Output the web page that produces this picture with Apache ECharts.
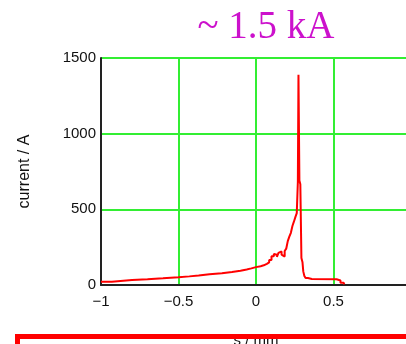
<!DOCTYPE html>
<html>
<head>
<meta charset="utf-8">
<script src="https://cdn.jsdelivr.net/npm/echarts@6/dist/echarts.min.js"></script>
<style>
  html, body { margin: 0; padding: 0; background: #ffffff; }
  #chart { width: 406px; height: 344px; }
</style>
</head>
<body>
<div id="chart"></div>
<script>
// Longitudinal position along the bunch (mm)
const positions = [
  -1.00, -0.93, -0.80, -0.70, -0.60, -0.50, -0.43, -0.37, -0.30, -0.22,
  -0.155, -0.10, -0.06, -0.03, 0.00, 0.03, 0.05, 0.07, 0.085, 0.10,
  0.115, 0.125, 0.135, 0.145, 0.155, 0.165, 0.175, 0.185, 0.195, 0.205,
  0.215, 0.225, 0.235, 0.245, 0.255, 0.263, 0.270, 0.274, 0.280, 0.286,
  0.293, 0.300, 0.305, 0.312, 0.320, 0.335, 0.360, 0.520, 0.545, 0.565, 0.570
];
// Beam current at each position (A)
const currents = [
  22, 33, 38, 44, 51, 57, 63, 71, 78, 86,
  94, 103, 110, 118, 124, 130, 140, 150, 165, 190,
  205, 200, 186, 212, 222, 200, 188, 225, 240, 290,
  320, 345, 390, 420, 452, 475, 680, 1390, 690, 665,
  178, 150, 90, 60, 46, 40, 38, 30, 15, 4, 0
];
const yTicks = [0, 500, 1000, 1500];
const titleText = '~ 1.5 kA';
const xName = 's / mm';
const yName = 'current / A';

const points = positions.map((s, i) => [s, currents[i]]);
const minus = v => String(v).replace('-', '\u2212');
const plain = v => String(v);

const chart = echarts.init(document.getElementById('chart'), null, { renderer: 'canvas' });
chart.setOption({
  backgroundColor: '#ffffff',
  animation: false,
  title: {
    text: titleText,
    left: 261,
    top: 3,
    textAlign: 'center',
    textStyle: {
      fontFamily: 'Liberation Serif',
      fontWeight: 'normal',
      fontSize: 39,
      color: '#cc11cc'
    }
  },
  grid: { left: 101, top: 58, width: 310, height: 227, outerBoundsMode: 'none', containLabel: false },
  xAxis: {
    type: 'value',
    min: -1,
    max: 1,
    interval: 0.5,
    name: xName,
    nameLocation: 'middle',
    nameGap: 48,
    nameTextStyle: { fontFamily: 'Liberation Sans', fontSize: 15, color: '#111' },
    axisLine: { show: true, onZero: false, lineStyle: { color: '#222', width: 2 } },
    axisTick: { show: false },
    axisLabel: { formatter: minus, fontFamily: 'Liberation Sans', fontSize: 15, color: '#111', margin: 9 },
    splitLine: { show: true, lineStyle: { color: '#33ee33', width: 2 } }
  },
  yAxis: {
    type: 'value',
    min: yTicks[0],
    max: yTicks[yTicks.length - 1],
    interval: 500,
    name: yName,
    nameLocation: 'middle',
    nameGap: 68,
    nameTextStyle: { fontFamily: 'Liberation Sans', fontSize: 16, color: '#111' },
    axisLine: { show: true, onZero: false, lineStyle: { color: '#222', width: 2 } },
    axisTick: { show: false },
    axisLabel: { formatter: plain, fontFamily: 'Liberation Sans', fontSize: 15, color: '#111', margin: 5 },
    splitLine: { show: true, lineStyle: { color: '#33ee33', width: 2 } }
  },
  series: [{
    type: 'line',
    data: points,
    step: 'end',
    showSymbol: false,
    lineStyle: { color: '#ff0000', width: 2 },
    z: 5
  }],
  graphic: [
    { type: 'rect', shape: { x: 15, y: 334, width: 400, height: 5 }, style: { fill: '#ff0000' }, z: 100 },
    { type: 'rect', shape: { x: 15, y: 334, width: 5, height: 20 }, style: { fill: '#ff0000' }, z: 100 }
  ]
});
</script>
</body>
</html>
